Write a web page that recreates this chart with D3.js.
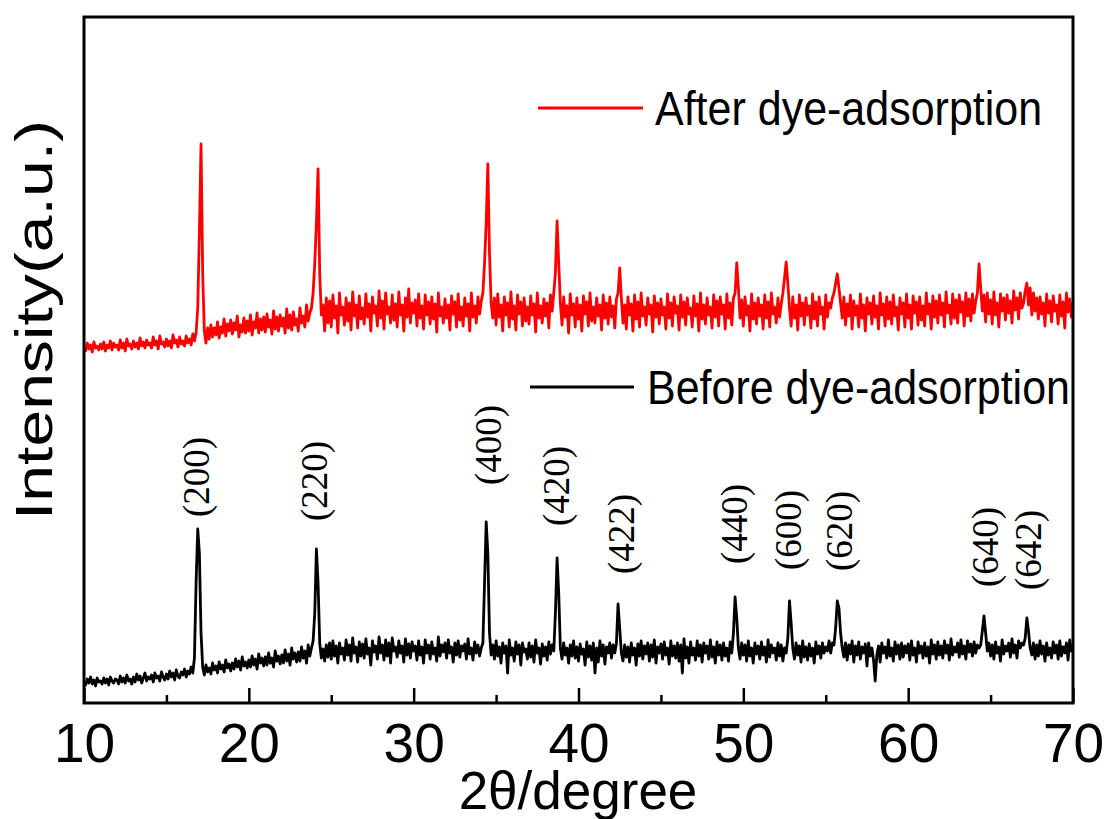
<!DOCTYPE html>
<html lang="en">
<head>
    <meta charset="UTF-8">
    <title>XRD before / after dye adsorption</title>
    <script src="https://d3js.org/d3.v7.min.js"></script>
    <style>
        body { margin: 0; background: #fff; }
        svg { display: block; font-family: Arial, "Liberation Sans", sans-serif; }
        .hkl { font-family: "Liberation Serif", "Times New Roman", "DejaVu Serif", serif; }
    </style>
</head>
<body>
    <div id="chart-container"></div>

    <script>
        // 2theta grid, 10 to 70 deg in 0.1 deg steps
        const theta = d3.range(601).map(i => 10 + i / 10);

        // intensity (a.u.), one row per degree
        const beforeCounts = [
            21,18,24,20,26,19,23,17,25,21,
            22,19,25,20,24,18,26,22,20,24,
            23,19,27,21,25,20,28,22,24,19,
            26,21,29,23,27,20,25,30,22,26,
            24,28,21,30,25,27,22,31,26,23,
            29,24,32,26,30,23,33,27,25,31,
            28,34,26,32,29,36,30,45,120,174,
            150,70,36,28,38,31,35,29,40,33,
            37,30,41,34,38,31,43,35,39,32,
            40,34,44,36,42,33,46,37,41,35,
            43,36,47,38,44,34,49,40,45,37,
            46,38,50,40,45,36,52,42,47,39,
            48,40,53,42,49,38,55,44,50,41,
            51,42,56,45,52,40,58,47,55,62,
            90,154,120,60,45,54,42,58,46,60,
            44,62,47,57,40,60,49,55,43,63,
            48,58,42,65,50,56,41,61,47,59,
            45,64,49,55,38,62,51,57,44,66,
            50,58,43,63,47,60,40,65,52,56,
            46,62,50,57,41,64,48,59,45,61,
            52,57,43,62,48,56,40,63,50,58,
            44,61,49,55,42,66,47,58,51,60,
            45,63,50,56,41,60,48,62,46,57,
            52,59,44,64,49,55,43,61,50,58,
            47,55,60,120,181,150,70,48,58,44,
            62,47,56,40,60,50,57,30,63,48,
            55,42,61,49,58,38,60,51,54,44,
            60,46,57,41,63,50,55,39,59,47,
            56,43,61,49,58,52,90,145,110,55,
            44,60,48,55,40,58,47,62,45,56,
            42,59,49,54,38,61,46,57,43,60,
            30,55,41,62,47,58,39,56,50,60,
            45,58,50,60,99,75,50,42,58,46,
            56,41,60,48,55,38,59,47,62,44,
            57,49,60,42,58,46,63,40,56,50,
            59,44,61,48,55,39,62,47,57,45,
            60,42,58,30,64,45,56,40,61,48,
            55,43,62,47,58,41,60,50,57,44,
            63,46,56,40,61,48,58,43,60,47,
            55,42,61,50,70,106,85,55,44,60,
            48,58,42,62,47,55,40,60,49,57,
            44,61,48,56,41,63,46,58,50,55,
            43,60,47,58,42,55,50,65,102,80,
            55,44,60,48,57,41,62,46,56,43,
            59,47,55,40,61,49,57,45,60,50,
            56,52,62,50,60,58,75,102,95,70,
            55,46,60,43,58,49,62,41,57,48,
            61,44,56,50,59,37,60,47,55,43,
            22,48,57,41,60,50,56,45,63,47,
            55,42,61,49,58,44,60,46,57,50,
            59,43,62,48,55,41,61,50,57,45,
            60,47,56,40,63,49,58,44,61,48,
            57,45,62,50,58,43,64,48,56,51,
            60,46,63,49,57,44,62,51,59,47,
            61,50,58,55,58,72,87,70,52,60,
            47,58,44,61,50,56,42,63,49,57,
            52,60,46,64,50,58,45,62,55,60,
            58,65,85,72,55,48,60,44,58,47,
            62,49,57,42,60,48,55,45,61,50,
            58,44,62,47,56,50,60,43,63,52,
            55
        ];

        const afterCounts = [
            356,352,360,354,358,351,361,355,357,353,
            359,354,361,352,358,355,362,353,360,356,
            358,353,363,355,360,352,364,357,359,354,
            362,356,360,354,365,357,361,355,363,358,
            360,355,366,358,362,354,367,359,361,356,
            364,357,362,355,368,360,363,356,366,359,
            362,357,367,360,364,358,369,362,370,395,
            470,559,430,372,360,375,364,378,366,375,
            368,381,365,376,370,384,367,379,372,383,
            369,380,373,387,366,378,371,385,370,382,
            372,388,368,381,375,390,370,384,373,386,
            371,389,376,383,369,392,374,386,372,388,
            377,385,370,394,375,388,373,391,378,384,
            372,395,380,387,376,398,382,390,395,410,
            440,480,534,430,388,398,372,405,380,402,
            376,408,385,397,370,410,388,396,378,405,
            382,400,373,411,387,398,375,407,384,395,
            379,409,386,399,372,406,390,397,377,412,
            385,402,374,410,389,396,380,408,383,399,
            376,411,388,398,372,405,386,414,380,400,
            390,403,377,409,385,397,374,408,388,401,
            379,406,384,399,371,410,387,396,380,404,
            385,398,373,407,389,401,376,409,383,396,
            377,405,387,399,372,410,386,397,380,406,
            389,402,410,440,480,539,450,400,385,405,
            378,409,386,398,372,406,388,400,376,411,
            384,397,373,408,389,401,377,405,382,396,
            379,407,388,399,371,410,385,397,380,404,
            387,400,375,408,392,410,430,482,440,400,
            378,406,386,397,370,409,388,399,376,405,
            384,398,372,407,389,401,377,410,382,396,
            380,405,387,398,373,408,385,400,379,406,
            386,397,375,404,410,435,405,380,398,374,
            406,388,399,372,408,384,401,376,410,387,
            396,378,405,389,398,371,407,386,400,379,
            404,388,396,374,409,385,400,377,406,390,
            397,373,408,386,401,378,405,389,395,376,
            407,387,399,372,410,384,398,379,405,388,
            396,375,408,386,402,377,406,389,398,374,
            409,385,400,378,405,410,440,415,385,403,
            377,406,388,397,372,409,384,400,379,405,
            387,398,374,408,385,401,376,410,389,396,
            380,405,386,399,410,425,441,420,395,377,
            406,385,398,373,408,387,400,378,405,388,
            397,375,409,384,401,377,406,389,396,374,
            408,386,400,395,405,410,420,429,415,400,
            385,406,378,399,387,408,374,402,388,397,
            376,409,385,398,372,405,389,400,379,407,
            386,397,374,410,388,399,377,406,384,401,
            379,408,387,396,373,405,389,400,376,409,
            385,398,374,407,390,401,378,406,383,397,
            377,410,389,399,374,407,386,402,380,408,
            388,400,376,411,390,398,379,409,385,403,
            380,408,391,401,377,410,387,404,382,409,
            390,402,410,439,415,392,408,381,410,389,
            403,379,411,388,400,376,409,392,405,383,
            408,390,402,380,412,393,405,384,410,395,
            400,412,420,398,415,388,410,392,405,384,
            406,389,400,377,409,390,402,381,407,392,
            398,379,408,387,401,375,410,391,404,386,
            400
        ];

        // reflections of the before-adsorption pattern
        const hkl = ["(200)", "(220)", "(400)", "(420)", "(422)", "(440)", "(600)", "(620)", "(640)", "(642)"];
        const hklTheta = [16.98, 24.14, 34.70, 38.82, 42.77, 49.62, 52.90, 56.00, 64.85, 67.46];
        const hklLevel = [226, 222, 258, 217, 169, 179, 173, 172, 156, 153];

        const majorTicks = [10, 20, 30, 40, 50, 60, 70];
        const minorTicks = [15, 25, 35, 45, 55, 65];

        const series = [
            { name: "After dye-adsorption", values: afterCounts, color: "#ff0000" },
            { name: "Before dye-adsorption", values: beforeCounts, color: "#000000" }
        ];

        const margin = { top: 17, right: 34, bottom: 116, left: 84 };
        const width = 989;
        const height = 686;

        const svg = d3.select("#chart-container")
            .append("svg")
            .attr("width", 1107)
            .attr("height", 819)
            .append("g")
            .attr("transform", `translate(${margin.left}, ${margin.top})`);

        const xScale = d3.scaleLinear().domain([10, 70]).range([0, width]);
        const yScale = d3.scaleLinear().domain([0, 686]).range([height, 0]);

        const line = d3.line()
            .x((d, i) => xScale(theta[i]))
            .y(d => yScale(d));

        // traces
        series.forEach(s => {
            svg.append("path")
                .datum(s.values)
                .attr("fill", "none")
                .attr("stroke", s.color)
                .attr("stroke-width", 2.8)
                .attr("stroke-linejoin", "round")
                .attr("d", line);
        });

        // minor ticks (inward, no labels)
        svg.append("g")
            .attr("transform", `translate(0, ${height})`)
            .call(d3.axisBottom(xScale).tickValues(minorTicks).tickSize(-8).tickFormat(""))
            .call(g => g.select(".domain").remove())
            .call(g => g.selectAll("line").attr("stroke-width", 2.5));

        // major ticks with labels
        svg.append("g")
            .attr("transform", `translate(0, ${height})`)
            .call(d3.axisBottom(xScale).tickValues(majorTicks).tickSize(-15).tickPadding(20).tickFormat(d3.format("d")))
            .call(g => g.select(".domain").remove())
            .call(g => g.selectAll("line").attr("stroke-width", 2.5))
            .call(g => g.selectAll("text")
                .attr("font-size", 55)
                .attr("font-family", "Arial, 'Liberation Sans', sans-serif")
                .attr("fill", "#000"));

        // frame
        svg.append("rect")
            .attr("x", 0)
            .attr("y", 0)
            .attr("width", width)
            .attr("height", height)
            .attr("fill", "none")
            .attr("stroke", "#000")
            .attr("stroke-width", 3);

        // peak labels
        svg.selectAll(".hkl")
            .data(hkl)
            .enter()
            .append("text")
            .attr("class", "hkl")
            .attr("transform", (d, i) => `translate(${xScale(hklTheta[i])}, ${yScale(hklLevel[i])}) rotate(-90)`)
            .attr("text-anchor", "middle")
            .attr("dy", "0.27em")
            .attr("font-size", 37)
            .text(d => d);

        // legends
        const legendPos = [
            { x1: 454, x2: 559, y: 91, tx: 571, ty: 108 },
            { x1: 446, x2: 550, y: 370, tx: 563, ty: 387 }
        ];
        series.forEach((s, i) => {
            const p = legendPos[i];
            svg.append("line")
                .attr("x1", p.x1).attr("x2", p.x2)
                .attr("y1", p.y).attr("y2", p.y)
                .attr("stroke", s.color)
                .attr("stroke-width", 3);
            svg.append("text")
                .attr("transform", `translate(${p.tx}, ${p.ty}) scale(1, 1.12)`)
                .attr("font-size", 43)
                .text(s.name);
        });

        // axis titles
        svg.append("text")
            .attr("x", 494)
            .attr("y", 792)
            .attr("text-anchor", "middle")
            .attr("font-size", 53)
            .text("2θ/degree");

        svg.append("text")
            .attr("transform", "translate(-32, 303) rotate(-90)")
            .attr("text-anchor", "middle")
            .attr("font-size", 52)
            .attr("textLength", 400)
            .attr("lengthAdjust", "spacingAndGlyphs")
            .text("Intensity(a.u.)");
    </script>
</body>
</html>
